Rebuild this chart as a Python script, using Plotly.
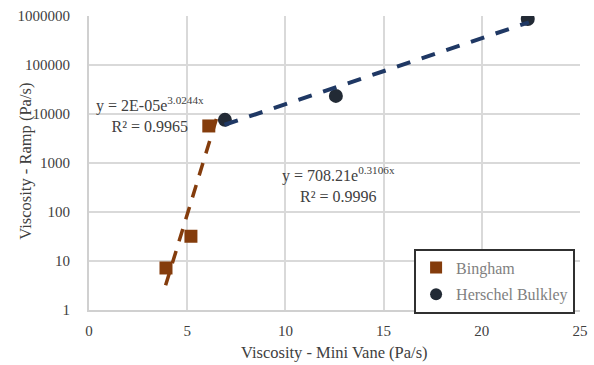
import numpy as np
import plotly.graph_objects as go

# ---- data ----
bingham_x = [3.92, 5.19, 6.10]
bingham_y = [7.2, 32, 5700]
hb_x = [6.92, 12.57, 22.34]
hb_y = [7600, 23400, 870000]

# exponential trendlines (y = a*exp(b*x)); label text as shown
bingham_a, bingham_b = 2.4e-5, 3.0244      # label rounds a to 2E-05
bingham_line_range = [3.9, 6.56]
hb_a, hb_b = 708.21, 0.3106
hb_line_range = [6.9, 22.4]

bingham_label = "y = 2E-05e<sup>3.0244x</sup><br>R² = 0.9965"
hb_label = "y = 708.21e<sup>0.3106x</sup><br>R² = 0.9996"
x_title = "Viscosity - Mini Vane (Pa/s)"
y_title = "Viscosity - Ramp (Pa/s)"

y_tickvals = [1, 10, 100, 1000, 10000, 100000, 1000000]
y_ticktext = ["1", "10", "100", "1000", "10000", "100000", "1000000"]
x_tickvals = [0, 5, 10, 15, 20, 25]

FONT = "Liberation Serif"
BROWN = "#843C0C"
NAVY = "#1F3864"
DARK = "#222A35"
TXT = "#404040"

bx = np.linspace(*bingham_line_range, 60)
hx = np.linspace(*hb_line_range, 100)

fig = go.Figure()
fig.add_trace(go.Scatter(x=bx, y=bingham_a * np.exp(bingham_b * bx), mode="lines",
                         line=dict(color=BROWN, width=3.5, dash="13px,10px"),
                         showlegend=False, hoverinfo="skip"))
fig.add_trace(go.Scatter(x=bingham_x, y=bingham_y, mode="markers", name="Bingham",
                         legendgroup="a",
                         marker=dict(symbol="square", size=13, color=BROWN)))
fig.add_trace(go.Scatter(x=hb_x, y=hb_y, mode="markers", name="Herschel Bulkley",
                         legendgroup="b",
                         marker=dict(symbol="circle", size=14, color=DARK)))
fig.add_trace(go.Scatter(x=hx, y=hb_a * np.exp(hb_b * hx), mode="lines",
                         line=dict(color=NAVY, width=4, dash="14px,12px"),
                         showlegend=False, hoverinfo="skip"))

fig.add_annotation(x=3.1, y=4.0, text=bingham_label, showarrow=False,
                   xref="x", yref="y", align="center", xanchor="center", yanchor="middle",
                   font=dict(family=FONT, size=16, color=TXT))
fig.add_annotation(x=12.7, y=2.57, text=hb_label, showarrow=False,
                   xref="x", yref="y", align="center", xanchor="center", yanchor="middle",
                   font=dict(family=FONT, size=16, color=TXT))
# axis titles
fig.add_annotation(x=0.5, y=-0.146, xref="paper", yref="paper", text=x_title,
                   showarrow=False, xanchor="center", yanchor="middle",
                   font=dict(family=FONT, size=16.5, color=TXT))
fig.add_annotation(x=-0.13, y=0.505, xref="paper", yref="paper", text=y_title,
                   showarrow=False, xanchor="center", yanchor="middle", textangle=-90,
                   font=dict(family=FONT, size=16.5, color=TXT))

fig.update_layout(
    width=594, height=365,
    margin=dict(l=89, r=14, t=16, b=55),
    paper_bgcolor="white", plot_bgcolor="white",
    font=dict(family=FONT, size=15, color=TXT),
    showlegend=True,
    legend=dict(x=0.99, y=-0.012, xanchor="right", yanchor="bottom",
                bgcolor="white", bordercolor="#303030", borderwidth=2,
                font=dict(family=FONT, size=16, color="#7F7F7F"),
                tracegroupgap=3, itemsizing="constant", itemwidth=30),
)
fig.update_xaxes(range=[0, 25], tickvals=x_tickvals, showgrid=True, gridcolor="#D9D9D9",
                 gridwidth=1.5, showline=True, linecolor="#D0D0D0", linewidth=2,
                 zeroline=False, ticks="", ticklabelstandoff=6, automargin=False,
                 tickfont=dict(family=FONT, size=15, color=TXT))
fig.update_yaxes(type="log", range=[0, 6], tickvals=y_tickvals, ticktext=y_ticktext,
                 showgrid=True, gridcolor="#D9D9D9", gridwidth=1.5,
                 showline=True, linecolor="#D0D0D0", linewidth=2,
                 zeroline=False, ticks="", ticklabelstandoff=14, automargin=False,
                 tickfont=dict(family=FONT, size=15, color=TXT))

# remove the browser's default 8px page margin so the figure fills the window
fig.write_html("out.html", config={"displayModeBar": False},
               post_script="document.body.style.margin='0';document.body.style.overflow='hidden';")
